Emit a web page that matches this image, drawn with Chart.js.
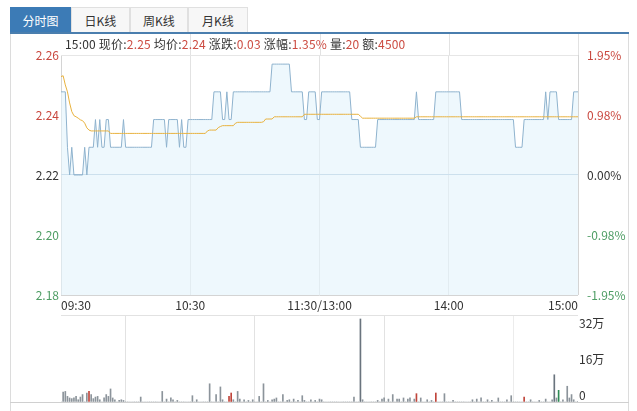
<!DOCTYPE html>
<html><head><meta charset="utf-8">
<script src="https://cdn.jsdelivr.net/npm/chart.js@4/dist/chart.umd.min.js"></script>
<style>
html,body{margin:0;padding:0;background:#fff;width:637px;height:411px;overflow:hidden;font-family:"Noto Sans CJK SC","Noto Sans",sans-serif;font-size:12px;color:#333}
#wrap{position:relative;width:637px;height:411px}
.tab{position:absolute;top:7px;height:26px;line-height:26px;text-align:center;border:1px solid #e0e0e0;border-bottom:none;background:#f7f7f7;color:#333;box-sizing:border-box;font-size:12px}
.tab.on{background:#3c7bb6;color:#fff;border-color:#3c7bb6}
#bar{position:absolute;left:10px;top:32px;width:619px;height:2px;background:#4a7eae}
.vb{position:absolute;top:34px;width:1px;height:380px;background:#dcdcdc}
#base{position:absolute;left:10px;top:402px;width:619px;height:1px;background:#d0d0d0}
#info{position:absolute;left:65px;top:36px;line-height:16px;white-space:nowrap;font-size:12px;color:#333;letter-spacing:0.2px}
#info b{font-weight:normal;color:#cc4b41}
canvas{position:absolute;left:0}
#pc{top:0}
#vc{top:300px}
</style></head>
<body><div id="wrap">
<div class="tab on" style="left:10px;width:61px">分时图</div>
<div class="tab" style="left:71px;width:59px">日K线</div>
<div class="tab" style="left:130px;width:58px">周K线</div>
<div class="tab" style="left:188px;width:60px">月K线</div>
<div class="vb" style="left:10px"></div>
<div class="vb" style="left:628px"></div>
<div id="base"></div>
<canvas id="pc" width="637" height="312"></canvas>
<canvas id="vc" width="637" height="111"></canvas>
<div id="bar"></div>
<div id="info">15:00 现价:<b>2.25</b> 均价:<b>2.24</b> 涨跌:<b>0.03</b> 涨幅:<b>1.35%</b> 量:<b>20</b> 额:<b>4500</b></div>
</div>
<script>
// ---- data ----
const prevClose = 2.22;
const pctRange = 1.95;
const timeTickIndex = [0, 60, 120, 180, 240];
const timeTickLabels = ['09:30', '10:30', '11:30/13:00', '14:00', '15:00'];
const priceTickLabels = ['2.18', '2.20', '2.22', '2.24', '2.26'];
const pctTickLabels = ['-1.95%', '-0.98%', '0.00%', '0.98%', '1.95%'];
const volTickValues = [0, 160000, 320000];
const volTickLabels = ['0', '16万', '32万'];
const volMax = 386700;

const price = [
 2.25,2.25,2.25,2.23,2.22,2.23,2.22,2.22,2.22,2.22,
 2.22,2.23,2.22,2.23,2.23,2.23,2.24,2.23,2.24,2.23,
 2.23,2.24,2.24,2.23,2.23,2.23,2.23,2.23,2.23,2.24,
 2.23,2.23,2.23,2.23,2.23,2.23,2.23,2.23,2.23,2.23,
 2.23,2.23,2.23,2.24,2.24,2.24,2.24,2.24,2.24,2.23,
 2.24,2.24,2.24,2.24,2.24,2.23,2.24,2.23,2.23,2.24,
 2.24,2.24,2.24,2.24,2.24,2.24,2.24,2.24,2.24,2.24,
 2.24,2.25,2.25,2.25,2.25,2.24,2.24,2.25,2.24,2.24,
 2.25,2.25,2.25,2.25,2.25,2.25,2.25,2.25,2.25,2.25,
 2.25,2.25,2.25,2.25,2.25,2.25,2.25,2.25,2.26,2.26,
 2.26,2.26,2.26,2.26,2.26,2.26,2.26,2.25,2.25,2.25,
 2.25,2.25,2.25,2.24,2.24,2.25,2.25,2.25,2.25,2.24,
 2.24,2.25,2.25,2.25,2.25,2.25,2.25,2.25,2.25,2.25,
 2.25,2.25,2.25,2.25,2.25,2.24,2.24,2.24,2.24,2.23,
 2.23,2.23,2.23,2.23,2.23,2.23,2.23,2.24,2.24,2.24,
 2.24,2.24,2.24,2.24,2.24,2.24,2.24,2.24,2.24,2.24,
 2.24,2.24,2.24,2.24,2.24,2.25,2.24,2.24,2.24,2.24,
 2.24,2.24,2.24,2.24,2.25,2.25,2.25,2.25,2.25,2.25,
 2.25,2.25,2.25,2.25,2.25,2.25,2.24,2.24,2.24,2.24,
 2.24,2.24,2.24,2.24,2.24,2.24,2.24,2.24,2.24,2.24,
 2.24,2.24,2.24,2.24,2.24,2.24,2.24,2.24,2.24,2.24,
 2.24,2.23,2.23,2.23,2.23,2.24,2.24,2.24,2.24,2.24,
 2.24,2.24,2.24,2.24,2.24,2.25,2.24,2.25,2.25,2.25,
 2.25,2.24,2.24,2.24,2.24,2.24,2.24,2.24,2.25,2.25,
 2.25
];

const avgPrice = [
 2.2555,2.2558,2.2525,2.2500,2.2460,2.2429,2.2414,2.2410,2.2405,2.2399,
 2.2396,2.2387,2.2370,2.2362,2.2359,2.2359,2.2359,2.2359,2.2359,2.2359,
 2.2359,2.2359,2.2359,2.2350,2.2350,2.2350,2.2350,2.2350,2.2350,2.2350,
 2.2350,2.2350,2.2350,2.2350,2.2350,2.2350,2.2350,2.2350,2.2350,2.2350,
 2.2350,2.2350,2.2350,2.2350,2.2350,2.2350,2.2350,2.2350,2.2350,2.2350,
 2.2350,2.2350,2.2350,2.2350,2.2350,2.2350,2.2350,2.2350,2.2350,2.2350,
 2.2350,2.2350,2.2350,2.2350,2.2350,2.2350,2.2350,2.2350,2.2359,2.2362,
 2.2362,2.2362,2.2362,2.2371,2.2375,2.2378,2.2378,2.2378,2.2378,2.2378,
 2.2378,2.2387,2.2390,2.2390,2.2390,2.2390,2.2390,2.2390,2.2390,2.2390,
 2.2390,2.2390,2.2390,2.2390,2.2392,2.2402,2.2402,2.2402,2.2402,2.2410,
 2.2410,2.2410,2.2410,2.2410,2.2410,2.2410,2.2410,2.2410,2.2410,2.2410,
 2.2410,2.2410,2.2410,2.2419,2.2419,2.2419,2.2419,2.2419,2.2419,2.2419,
 2.2419,2.2419,2.2419,2.2419,2.2419,2.2419,2.2419,2.2419,2.2419,2.2419,
 2.2419,2.2419,2.2419,2.2419,2.2419,2.2419,2.2419,2.2419,2.2419,2.2412,
 2.2405,2.2405,2.2405,2.2405,2.2405,2.2405,2.2405,2.2405,2.2405,2.2405,
 2.2405,2.2405,2.2405,2.2405,2.2405,2.2405,2.2405,2.2405,2.2405,2.2405,
 2.2405,2.2405,2.2405,2.2405,2.2405,2.2410,2.2410,2.2410,2.2410,2.2410,
 2.2410,2.2410,2.2410,2.2410,2.2410,2.2410,2.2410,2.2410,2.2410,2.2410,
 2.2410,2.2410,2.2410,2.2410,2.2410,2.2410,2.2410,2.2410,2.2410,2.2410,
 2.2410,2.2410,2.2410,2.2410,2.2410,2.2410,2.2410,2.2410,2.2410,2.2410,
 2.2410,2.2410,2.2410,2.2410,2.2410,2.2410,2.2410,2.2410,2.2410,2.2410,
 2.2410,2.2410,2.2410,2.2410,2.2410,2.2410,2.2410,2.2410,2.2410,2.2410,
 2.2410,2.2410,2.2410,2.2410,2.2410,2.2410,2.2410,2.2410,2.2410,2.2410,
 2.2410,2.2410,2.2410,2.2410,2.2410,2.2410,2.2410,2.2410,2.2410,2.2410,
 2.2410
];

// volume readings: minute index and volume (shares)
const volIndex = [1,2,3,4,5,6,7,8,9,10,12,13,14,15,16,17,18,20,21,22,23,24,25,27,28,29,37,47,49,51,52,54,61,63,69,72,74,75,78,79,80,82,83,85,87,89,92,94,96,98,99,100,103,105,106,108,110,112,113,116,118,120,121,136,139,140,147,149,150,152,154,156,157,159,161,162,164,165,167,170,172,174,178,182,191,193,195,198,200,203,207,209,215,218,222,225,228,229,230,231,233,235,236,237,238,240];
const volValue = [44000,47000,25000,18000,15000,18000,25000,10000,22000,33000,40000,47000,33000,15000,22000,25000,10000,18000,33000,25000,58000,18000,10000,7000,10000,7000,22000,47000,13000,18000,10000,7000,28000,10000,81000,33000,67000,10000,25000,40000,10000,47000,13000,10000,7000,10000,25000,81000,7000,10000,13000,18000,33000,7000,10000,13000,7000,28000,7000,10000,7000,13000,10000,22000,369000,10000,7000,13000,18000,13000,33000,13000,13000,18000,13000,18000,13000,37000,18000,10000,7000,40000,37000,7000,10000,13000,18000,10000,7000,18000,10000,28000,22000,10000,7000,13000,10000,121000,18000,52000,10000,70000,18000,33000,10000,2000];
const upBars = [13, 78, 79, 165, 174, 215];
const downBars = [231];

// ---- build ----
const minutes = [];
for (let h = 9, m = 30; minutes.length < 121; ) { minutes.push(String(h).padStart(2,'0') + ':' + String(m).padStart(2,'0')); m++; if (m === 60) { m = 0; h++; } }
for (let h = 13, m = 1; minutes.length < 241; ) { minutes.push(String(h).padStart(2,'0') + ':' + String(m).padStart(2,'0')); m++; if (m === 60) { m = 0; h++; } }

const volume = new Array(minutes.length).fill(0);
volIndex.forEach((i, k) => { volume[i] = volValue[k]; });

const RED = '#c9483f', GREEN = '#4e9d64', DARK = '#333';
const volColors = volume.map((v, i) => upBars.includes(i) ? '#c0453b' : downBars.includes(i) ? '#2f8a55' : (v > 100000 ? '#6a747e' : '#8c949b'));

const yMax = prevClose * (1 + pctRange / 100);
const yMin = prevClose * (1 - pctRange / 100);
const yTicks = priceTickLabels.map((_, k) => yMin + (yMax - yMin) * k / (priceTickLabels.length - 1));

Chart.defaults.font.family = '"Noto Sans CJK SC","Noto Sans",sans-serif';
Chart.defaults.font.size = 12;
Chart.defaults.color = '#333';

const tickColor = ctx => ctx.index < 2 ? GREEN : ctx.index === 2 ? DARK : RED;

const extendGrid = {
  id: 'extendGrid',
  beforeDatasetsDraw(chart) {
    const x = chart.scales.x, c = chart.ctx, top = chart.chartArea.top;
    c.save();
    c.strokeStyle = '#e2e2e2';
    c.lineWidth = 1;
    timeTickIndex.slice(1).forEach(v => {
      const px = Math.round(x.getPixelForValue(v)) + 0.5;
      c.beginPath(); c.moveTo(px, 34); c.lineTo(px, top); c.stroke();
    });
    c.restore();
  }
};

new Chart(document.getElementById('pc'), {
  type: 'line',
  data: {
    labels: minutes,
    datasets: [
      { data: avgPrice, borderColor: '#e8b23f', borderWidth: 1, pointRadius: 0, fill: false, tension: 0, order: 0 },
      { data: price, borderColor: '#8fb3ce', borderWidth: 1, pointRadius: 0, tension: 0, fill: 'start', backgroundColor: 'rgba(226,243,252,0.6)', order: 1 }
    ]
  },
  options: {
    responsive: false, animation: false, events: [],
    layout: { padding: { top: 55, left: 0, right: 0, bottom: 0 } },
    plugins: { legend: { display: false }, tooltip: { enabled: false } },
    scales: {
      x: {
        type: 'category', offset: false,
        border: { display: false },
        grid: { drawTicks: false, color: ctx => (ctx.index === 0 || ctx.index === 4) ? '#d4d4d4' : '#e2e2e2' },
        ticks: { autoSkip: false, maxRotation: 0, align: 'inner', padding: 3, color: '#333',
          callback: (v) => { const k = timeTickIndex.indexOf(v); return k >= 0 ? timeTickLabels[k] : ''; } },
        afterBuildTicks: s => { s.ticks = timeTickIndex.map(v => ({ value: v })); },
        afterFit: s => { s.height = 17; }
      },
      y: {
        position: 'left', min: yMin, max: yMax,
        border: { display: false },
        grid: { drawTicks: false, color: ctx => ctx.index === 0 ? '#d4d4d4' : ctx.index === 2 ? '#aac3d8' : ctx.index === 4 ? '#e6e6e6' : 'rgba(0,0,0,0)' },
        ticks: { padding: 2, color: tickColor, callback: (v, i) => priceTickLabels[i] },
        afterBuildTicks: s => { s.ticks = yTicks.map(v => ({ value: v })); },
        afterFit: s => { s.width = 61; }
      },
      y2: {
        position: 'right', min: yMin, max: yMax,
        border: { display: false },
        grid: { display: false },
        ticks: { padding: 1, color: tickColor, callback: (v, i) => pctTickLabels[i] },
        afterBuildTicks: s => { s.ticks = yTicks.map(v => ({ value: v })); },
        afterFit: s => { s.width = 59; }
      }
    }
  },
  plugins: [extendGrid]
});

new Chart(document.getElementById('vc'), {
  type: 'bar',
  data: {
    labels: minutes,
    datasets: [{ data: volume, backgroundColor: volColors, barThickness: 1, categoryPercentage: 1, barPercentage: 1 }]
  },
  options: {
    responsive: false, animation: false, events: [],
    layout: { padding: { top: 15, left: 61, right: 0, bottom: 9 } },
    plugins: { legend: { display: false }, tooltip: { enabled: false } },
    scales: {
      x: {
        type: 'category', offset: false,
        border: { display: false },
        grid: { drawTicks: false, color: ctx => ctx.index === 0 ? '#d4d4d4' : ctx.index === 4 ? '#ececec' : '#e2e2e2' },
        ticks: { display: false },
        afterBuildTicks: s => { s.ticks = timeTickIndex.map(v => ({ value: v })); },
        afterFit: s => { s.height = 0; }
      },
      y: {
        position: 'right', min: 0, max: volMax,
        border: { display: false },
        grid: { drawTicks: false, color: ctx => ctx.index === 3 ? '#e2e2e2' : 'rgba(0,0,0,0)' },
        ticks: { padding: 1, labelOffset: -7, color: '#333', callback: (v, i) => i < volTickLabels.length ? volTickLabels[i] : '' },
        afterBuildTicks: s => { s.ticks = volTickValues.concat([volMax]).map(v => ({ value: v })); },
        afterFit: s => { s.width = 59; }
      }
    }
  }
});
</script>
</body></html>
